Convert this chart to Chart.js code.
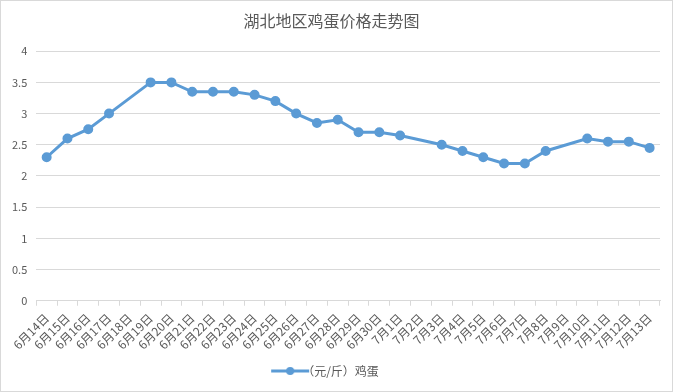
<!DOCTYPE html>
<html>
<head>
<meta charset="utf-8">
<script src="https://cdn.jsdelivr.net/npm/chart.js@4"></script>
<style>
  body { margin: 0; background: #fff; }
  #wrap { width: 671px; height: 390px; border: 1px solid #d9d9d9; }
</style>
</head>
<body>
<div id="wrap"><canvas id="eggChart" width="671" height="390"></canvas></div>
<script>
const days = ['6月14日', '6月15日', '6月16日', '6月17日', '6月18日', '6月19日', '6月20日', '6月21日',
  '6月22日', '6月23日', '6月24日', '6月25日', '6月26日', '6月27日', '6月28日', '6月29日', '6月30日',
  '7月1日', '7月2日', '7月3日', '7月4日', '7月5日', '7月6日', '7月7日', '7月8日', '7月9日',
  '7月10日', '7月11日', '7月12日', '7月13日'];
// 空值为当天没有报价
const eggPrice = [2.3, 2.6, 2.75, 3.0, null, 3.5, 3.5, 3.35, 3.35, 3.35, 3.3, 3.2, 3.0, 2.85, 2.9, 2.7, 2.7,
  2.65, null, 2.5, 2.4, 2.3, 2.2, 2.2, 2.4, null, 2.6, 2.55, 2.55, 2.45];
const yTicks = [0, 0.5, 1, 1.5, 2, 2.5, 3, 3.5, 4];

const fontFamily = '"Noto Sans CJK SC", "Noto Sans", sans-serif';
const blue = '#5b9bd5';

// 图例里的小图标：一段线加中间一个圆点
const legendIcon = document.createElement('canvas');
legendIcon.width = 40;
legendIcon.height = 10;
(function () {
  const c = legendIcon.getContext('2d');
  c.strokeStyle = blue;
  c.lineWidth = 3;
  c.beginPath(); c.moveTo(1, 5); c.lineTo(39, 5); c.stroke();
  c.fillStyle = blue;
  c.beginPath(); c.arc(20, 5, 4, 0, Math.PI * 2); c.fill();
})();

new Chart(document.getElementById('eggChart').getContext('2d'), {
  type: 'line',
  data: {
    labels: days,
    datasets: [{
      label: '（元/斤）鸡蛋',
      data: eggPrice,
      borderColor: blue,
      backgroundColor: blue,
      borderWidth: 3,
      pointRadius: 3.5,
      pointHoverRadius: 3.5,
      pointStyle: 'circle',
      spanGaps: true,
      tension: 0
    }]
  },
  options: {
    responsive: false,
    animation: false,
    layout: { padding: { left: 2, right: 12, top: 4, bottom: 4 } },
    plugins: {
      title: {
        display: true,
        text: '湖北地区鸡蛋价格走势图',
        color: '#595959',
        font: { family: fontFamily, size: 16, weight: 'normal' },
        padding: { top: 6, bottom: 21 }
      },
      legend: {
        position: 'bottom',
        labels: {
          color: '#595959',
          font: { family: fontFamily, size: 12 },
          usePointStyle: true,
          padding: 8,
          generateLabels: chart => chart.data.datasets.map((ds, i) => ({
            text: ds.label,
            pointStyle: legendIcon,
            fontColor: '#595959',
            datasetIndex: i
          }))
        }
      },
      tooltip: { enabled: false }
    },
    scales: {
      x: {
        offset: true,
        grid: { offset: true, drawOnChartArea: false, drawTicks: true, tickLength: 5, color: '#d9d9d9' },
        border: { color: '#d9d9d9' },
        ticks: {
          color: '#595959',
          font: { family: fontFamily, size: 12 },
          minRotation: 45,
          maxRotation: 45,
          autoSkip: false,
          padding: 5
        }
      },
      y: {
        min: 0,
        max: 4,
        afterBuildTicks: axis => { axis.ticks = yTicks.map(v => ({ value: v })); },
        grid: { color: '#d9d9d9', drawTicks: false },
        border: { display: false },
        ticks: {
          color: '#595959',
          font: { family: fontFamily, size: 11 },
          padding: 9,
          callback: v => String(v)
        }
      }
    }
  }
});
</script>
</body>
</html>
